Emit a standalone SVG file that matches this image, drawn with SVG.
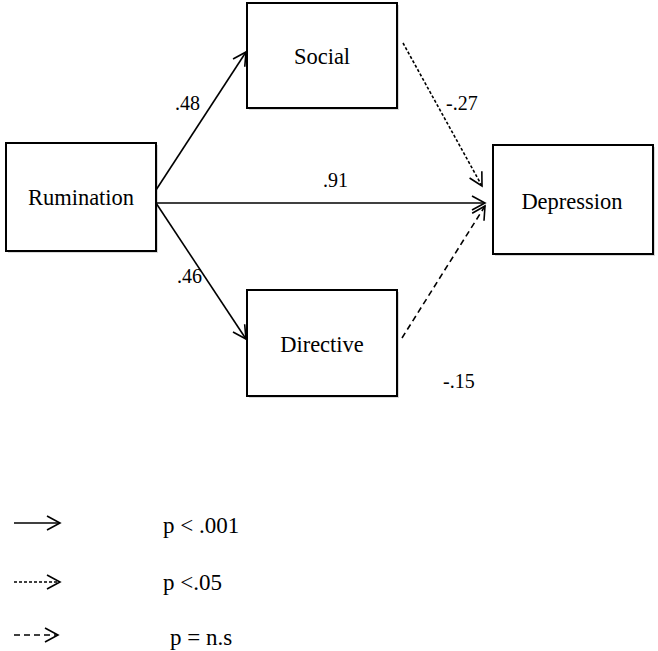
<svg xmlns="http://www.w3.org/2000/svg" width="658" height="651" viewBox="0 0 658 651">
<style>
.box{fill:#fff;stroke:#000;stroke-width:2}
.shadow{fill:#d8d8d8;stroke:none}
.node{font-family:"Liberation Serif","Times New Roman",serif;font-size:22.5px;fill:#000;text-anchor:middle}
.lbl{font-family:"Liberation Serif","Times New Roman",serif;font-size:20px;fill:#000}
.leg{font-family:"Liberation Serif","Times New Roman",serif;font-size:23px;fill:#000}
.ln{fill:none;stroke:#000;stroke-width:1.6}
.dot{stroke-dasharray:3,2}
.dash{stroke-dasharray:6,4}
</style>
<defs>
<marker id="arr" markerUnits="userSpaceOnUse" markerWidth="16" markerHeight="16" refX="13" refY="7" orient="auto" overflow="visible">
<path d="M0,0 L13,7 L0,14" fill="none" stroke="#000" stroke-width="1.6"/>
</marker>
</defs>
<g id="rumination">
<rect class="shadow" x="8" y="145" width="150" height="108"/>
<rect class="box" x="6" y="143" width="150" height="108"/>
<text class="node" x="81" y="205">Rumination</text>
</g>
<g id="social">
<rect class="shadow" x="249" y="5" width="150" height="105"/>
<rect class="box" x="247" y="3" width="150" height="105"/>
<text class="node" x="322" y="64">Social</text>
</g>
<g id="directive">
<rect class="shadow" x="249" y="292" width="150" height="106"/>
<rect class="box" x="247" y="290" width="150" height="106"/>
<text class="node" x="322" y="352">Directive</text>
</g>
<g id="depression">
<rect class="shadow" x="495" y="147" width="160" height="109"/>
<rect class="box" x="493" y="145" width="160" height="109"/>
<text class="node" x="572" y="209">Depression</text>
</g>
<g id="connectors">
<line class="ln" x1="156" y1="190" x2="246" y2="52" marker-end="url(#arr)"/>
<line class="ln" x1="156" y1="203" x2="485" y2="203" marker-end="url(#arr)"/>
<line class="ln" x1="156" y1="203" x2="246" y2="339" marker-end="url(#arr)"/>
<line class="ln dot" x1="403" y1="43" x2="482" y2="186" marker-end="url(#arr)"/>
<line class="ln dash" x1="402" y1="338" x2="485" y2="206" marker-end="url(#arr)"/>
</g>
<g id="labels">
<text class="lbl" x="175" y="110">.48</text>
<text class="lbl" x="323" y="187">.91</text>
<text class="lbl" x="446" y="110">-.27</text>
<text class="lbl" x="177" y="283">.46</text>
<text class="lbl" x="443" y="388">-.15</text>
</g>
<g id="legend">
<line class="ln" x1="14" y1="523" x2="60" y2="523" marker-end="url(#arr)"/>
<line class="ln dot" x1="14" y1="582" x2="60" y2="582" marker-end="url(#arr)"/>
<line class="ln dash" x1="14" y1="635" x2="58" y2="635" marker-end="url(#arr)"/>
<text class="leg" x="163" y="533">p &lt; .001</text>
<text class="leg" x="163" y="590">p &lt;.05</text>
<text class="leg" x="170" y="645">p = n.s</text>
</g>
</svg>
